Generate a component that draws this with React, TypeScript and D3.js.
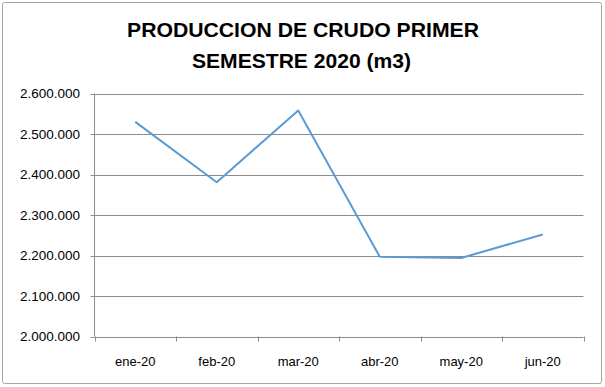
import React from "react";
import * as d3 from "d3";

const categories = ["ene-20", "feb-20", "mar-20", "abr-20", "may-20", "jun-20"];
const values = [2530000, 2381000, 2558000, 2197000, 2194000, 2252000];
const yTicks = [2000000, 2100000, 2200000, 2300000, 2400000, 2500000, 2600000];
const titleLines = ["PRODUCCION DE CRUDO PRIMER", "SEMESTRE 2020 (m3)"];

const W = 605;
const H = 387;
const plot = { left: 94.5, right: 583.5, top: 93.5, bottom: 336.5 };

function fmt(v: number) {
  return v.toString().replace(/\B(?=(\d{3})+(?!\d))/g, ".");
}

export default function App() {
  const x = d3.scaleBand<string>().domain(categories).range([plot.left, plot.right]);
  const y = d3.scaleLinear().domain([2000000, 2600000]).range([plot.bottom, plot.top]);
  const line = d3
    .line<number>()
    .x((_, i) => (x(categories[i]) as number) + x.bandwidth() / 2)
    .y((d) => y(d));
  const font = "'Liberation Sans', Arial, sans-serif";
  const tickXs = categories.map((c) => x(c) as number).concat([plot.right]);
  return (
    <svg
      width={W}
      height={H}
      style={{ position: "absolute", left: 0, top: 0 }}
      fontFamily={font}
    >
      <rect x={0} y={0} width={W} height={H} fill="#fff" />
      <rect x={2.5} y={2.5} width={599} height={381} fill="#fff" stroke="#a6a6a6" strokeWidth={1} rx={2} />
      <text x={303} y={37} textAnchor="middle" fontSize={20} fontWeight="bold" fill="#000"
        textLength={352} lengthAdjust="spacingAndGlyphs">{titleLines[0]}</text>
      <text x={301.5} y={67.5} textAnchor="middle" fontSize={20} fontWeight="bold" fill="#000"
        textLength={219} lengthAdjust="spacingAndGlyphs">{titleLines[1]}</text>
      {yTicks.map((t) => (
        <g key={t}>
          <line x1={plot.left} x2={plot.right} y1={Math.round(y(t)) + 0.5} y2={Math.round(y(t)) + 0.5}
            stroke="#8c8c8c" strokeWidth={1} />
          <line x1={plot.left - 4} x2={plot.left} y1={Math.round(y(t)) + 0.5} y2={Math.round(y(t)) + 0.5}
            stroke="#8c8c8c" strokeWidth={1} />
          <text x={80} y={y(t)} dy="0.35em" textAnchor="end" fontSize={13.5} fill="#000">{fmt(t)}</text>
        </g>
      ))}
      <line x1={plot.left} x2={plot.left} y1={plot.top} y2={plot.bottom} stroke="#8c8c8c" strokeWidth={1} />
      {tickXs.map((tx, i) => (
        <line key={i} x1={Math.round(tx) + 0.5} x2={Math.round(tx) + 0.5} y1={plot.bottom} y2={plot.bottom + 5}
          stroke="#8c8c8c" strokeWidth={1} />
      ))}
      {categories.map((c) => (
        <text key={c} x={(x(c) as number) + x.bandwidth() / 2} y={361} dy="0.35em" textAnchor="middle"
          fontSize={13} fill="#000">{c}</text>
      ))}
      <path d={line(values) || ""} fill="none" stroke="#5b9bd5" strokeWidth={2} strokeLinejoin="round" />
    </svg>
  );
}
